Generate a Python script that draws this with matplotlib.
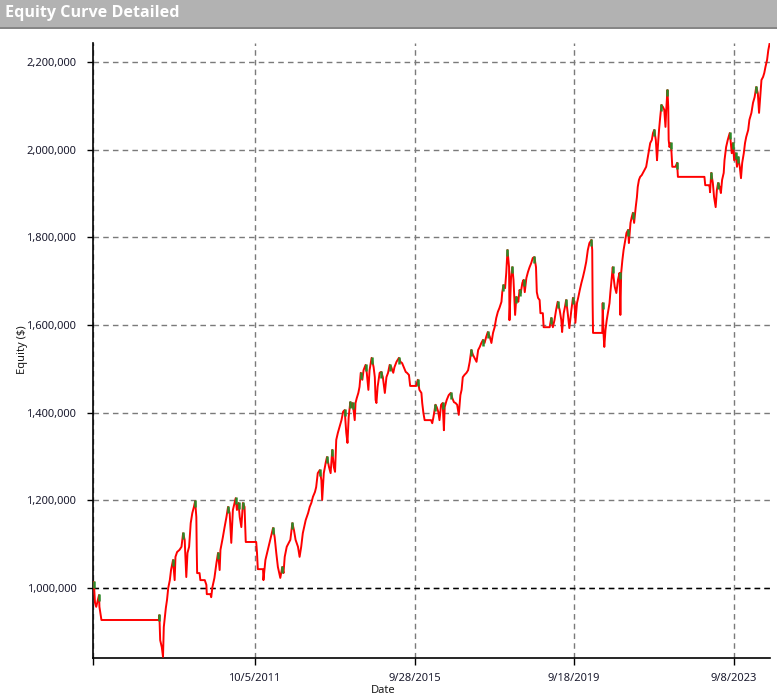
import datetime as dt
import matplotlib
matplotlib.use('Agg')
import matplotlib.pyplot as plt
from matplotlib.patches import Rectangle
from matplotlib.lines import Line2D
from matplotlib.ticker import FuncFormatter

# equity curve (decimal year, equity in $1000)
trace_year = [
    2007.74, 2007.76, 2007.79, 2007.82, 2007.89, 2007.90, 2007.93, 2007.95, 2009.38, 2009.39,
    2009.41, 2009.45, 2009.48, 2009.50, 2009.55, 2009.58, 2009.61, 2009.65, 2009.68, 2009.73,
    2009.77, 2009.79, 2009.83, 2009.89, 2009.94, 2009.98, 2010.02, 2010.06, 2010.09, 2010.13,
    2010.17, 2010.21, 2010.25, 2010.28, 2010.31, 2010.32, 2010.33, 2010.39, 2010.41, 2010.52,
    2010.56, 2010.57, 2010.66, 2010.68, 2010.71, 2010.76, 2010.81, 2010.85, 2010.89, 2010.91,
    2010.97, 2011.01, 2011.06, 2011.10, 2011.14, 2011.18, 2011.22, 2011.29, 2011.32, 2011.36,
    2011.39, 2011.43, 2011.47, 2011.51, 2011.54, 2011.80, 2011.82, 2011.84, 2011.97, 2011.98,
    2012.03, 2012.09, 2012.15, 2012.22, 2012.26, 2012.30, 2012.34, 2012.40, 2012.45, 2012.48,
    2012.51, 2012.56, 2012.61, 2012.65, 2012.70, 2012.74, 2012.78, 2012.84, 2012.88, 2012.92,
    2012.96, 2013.03, 2013.09, 2013.13, 2013.17, 2013.21, 2013.26, 2013.29, 2013.33, 2013.38,
    2013.42, 2013.44, 2013.48, 2013.53, 2013.56, 2013.61, 2013.65, 2013.69, 2013.73, 2013.76,
    2013.79, 2013.83, 2013.87, 2013.92, 2013.96, 2014.00, 2014.04, 2014.07, 2014.10, 2014.14,
    2014.17, 2014.20, 2014.25, 2014.27, 2014.30, 2014.34, 2014.37, 2014.40, 2014.44, 2014.47,
    2014.52, 2014.55, 2014.59, 2014.62, 2014.67, 2014.72, 2014.75, 2014.77, 2014.79, 2014.82,
    2014.87, 2014.91, 2014.95, 2015.00, 2015.04, 2015.08, 2015.12, 2015.16, 2015.21, 2015.24,
    2015.29, 2015.35, 2015.39, 2015.43, 2015.47, 2015.52, 2015.55, 2015.60, 2015.63, 2015.78,
    2015.82, 2015.86, 2015.91, 2015.93, 2015.96, 2015.99, 2016.15, 2016.18, 2016.21, 2016.26,
    2016.29, 2016.33, 2016.36, 2016.40, 2016.44, 2016.47, 2016.49, 2016.54, 2016.59, 2016.64,
    2016.68, 2016.72, 2016.76, 2016.80, 2016.84, 2016.88, 2016.91, 2016.94, 2016.98, 2017.03,
    2017.07, 2017.11, 2017.15, 2017.19, 2017.23, 2017.28, 2017.32, 2017.36, 2017.40, 2017.44,
    2017.48, 2017.52, 2017.56, 2017.61, 2017.65, 2017.69, 2017.73, 2017.77, 2017.81, 2017.85,
    2017.90, 2017.92, 2017.95, 2017.99, 2018.02, 2018.05, 2018.09, 2018.10, 2018.14, 2018.17,
    2018.20, 2018.24, 2018.27, 2018.29, 2018.32, 2018.35, 2018.38, 2018.42, 2018.45, 2018.48,
    2018.52, 2018.56, 2018.60, 2018.64, 2018.68, 2018.72, 2018.76, 2018.78, 2018.81, 2018.85,
    2018.87, 2018.93, 2018.95, 2019.10, 2019.14, 2019.18, 2019.22, 2019.26, 2019.30, 2019.35,
    2019.39, 2019.41, 2019.45, 2019.48, 2019.51, 2019.55, 2019.59, 2019.64, 2019.68, 2019.72,
    2019.74, 2019.78, 2019.81, 2019.85, 2019.89, 2019.93, 2019.97, 2020.01, 2020.05, 2020.09,
    2020.14, 2020.16, 2020.17, 2020.18, 2020.41, 2020.42, 2020.44, 2020.46, 2020.49, 2020.52,
    2020.56, 2020.59, 2020.61, 2020.64, 2020.67, 2020.69, 2020.72, 2020.76, 2020.80, 2020.84,
    2020.86, 2020.88, 2020.91, 2020.94, 2020.97, 2021.01, 2021.05, 2021.07, 2021.11, 2021.14,
    2021.17, 2021.20, 2021.24, 2021.27, 2021.29, 2021.32, 2021.35, 2021.39, 2021.42, 2021.46,
    2021.50, 2021.54, 2021.57, 2021.60, 2021.64, 2021.67, 2021.70, 2021.74, 2021.77, 2021.79,
    2021.82, 2021.85, 2021.88, 2021.92, 2021.95, 2021.98, 2022.00, 2022.03, 2022.05, 2022.06,
    2022.08, 2022.11, 2022.13, 2022.15, 2022.23, 2022.27, 2022.29, 2022.95, 2022.97, 2023.06,
    2023.08, 2023.09, 2023.12, 2023.16, 2023.19, 2023.23, 2023.26, 2023.29, 2023.33, 2023.36,
    2023.39, 2023.43, 2023.45, 2023.49, 2023.53, 2023.58, 2023.60, 2023.63, 2023.66, 2023.69,
    2023.73, 2023.76, 2023.79, 2023.83, 2023.86, 2023.89, 2023.93, 2023.96, 2023.99, 2024.04,
    2024.07, 2024.12, 2024.16, 2024.20, 2024.24, 2024.28, 2024.31, 2024.34, 2024.37, 2024.41,
    2024.44, 2024.47, 2024.51, 2024.54, 2024.57,
]
trace_equity_k = [
    1007, 1014, 966, 957, 984, 957, 938, 927, 927, 938,
    881, 865, 843, 911, 954, 973, 1000, 1018, 1041, 1064,
    1018, 1071, 1082, 1087, 1094, 1125, 1110, 1025, 1080, 1094,
    1148, 1171, 1185, 1198, 1162, 1087, 1034, 1034, 1018, 1018,
    1007, 986, 986, 979, 1002, 1023, 1057, 1080, 1041, 1087,
    1116, 1137, 1162, 1185, 1171, 1103, 1178, 1205, 1178, 1194,
    1162, 1139, 1194, 1185, 1105, 1105, 1080, 1043, 1043, 1018,
    1064, 1087, 1110, 1137, 1116, 1080, 1048, 1023, 1048, 1034,
    1071, 1094, 1103, 1110, 1148, 1132, 1110, 1094, 1071, 1094,
    1125, 1155, 1171, 1185, 1194, 1208, 1219, 1230, 1262, 1269,
    1246, 1201, 1262, 1287, 1299, 1276, 1262, 1315, 1276, 1265,
    1338, 1354, 1367, 1383, 1402, 1406, 1354, 1331, 1390, 1424,
    1413, 1422, 1383, 1422, 1433, 1445, 1459, 1491, 1475, 1497,
    1509, 1491, 1452, 1497, 1525, 1504, 1481, 1429, 1422, 1459,
    1491, 1493, 1481, 1445, 1481, 1491, 1509, 1504, 1491, 1504,
    1516, 1525, 1516, 1513, 1504, 1493, 1491, 1486, 1461, 1461,
    1475, 1452, 1445, 1422, 1399, 1383, 1383, 1376, 1390, 1418,
    1413, 1402, 1383, 1418, 1422, 1360, 1413, 1429, 1440, 1445,
    1433, 1424, 1422, 1418, 1395, 1440, 1452, 1481, 1486, 1491,
    1497, 1516, 1543, 1532, 1525, 1516, 1543, 1550, 1559, 1566,
    1559, 1573, 1584, 1573, 1559, 1582, 1595, 1616, 1630, 1639,
    1653, 1675, 1691, 1684, 1719, 1771, 1732, 1611, 1710, 1732,
    1703, 1623, 1664, 1662, 1653, 1680, 1673, 1696, 1703, 1675,
    1707, 1721, 1732, 1741, 1753, 1755, 1732, 1675, 1662, 1657,
    1627, 1627, 1595, 1595, 1616, 1595, 1611, 1634, 1653, 1634,
    1611, 1584, 1627, 1641, 1657, 1627, 1593, 1634, 1662, 1653,
    1605, 1650, 1662, 1680, 1696, 1710, 1726, 1744, 1771, 1787,
    1794, 1771, 1650, 1582, 1582, 1650, 1582, 1550, 1589, 1611,
    1634, 1650, 1673, 1703, 1732, 1710, 1687, 1673, 1703, 1719,
    1623, 1719, 1748, 1771, 1787, 1810, 1817, 1787, 1833, 1846,
    1856, 1833, 1869, 1892, 1915, 1931, 1938, 1942, 1947, 1954,
    1961, 1983, 1999, 2015, 2022, 2038, 2045, 2022, 1976, 2006,
    2045, 2075, 2102, 2097, 2091, 2052, 2091, 2136, 2097, 2022,
    2006, 2015, 1995, 1961, 1961, 1970, 1938, 1938, 1919, 1919,
    1915, 1903, 1947, 1924, 1892, 1869, 1908, 1924, 1915, 1901,
    1931, 1947, 1976, 2006, 2022, 2038, 2022, 1992, 2015, 1976,
    1992, 1961, 1983, 1961, 1935, 1970, 1992, 2015, 2029, 2045,
    2068, 2084, 2107, 2120, 2143, 2129, 2084, 2120, 2159, 2166,
    2175, 2189, 2205, 2227, 2241,
]

tick_dates = ['2007-09-29', '2011-10-05', '2015-09-28', '2019-09-18', '2023-09-08']
tick_labels = ['', '10/5/2011', '9/28/2015', '9/18/2019', '9/8/2023']
ytick_values = [1000000, 1200000, 1400000, 1600000, 1800000, 2000000, 2200000]
start_equity = 1000000
y_range = (840300, 2243400)


def year_to_date(y):
    year = int(y)
    return dt.datetime(year, 1, 1) + dt.timedelta(days=(y - year) * 365.25)


plt.rcParams['font.family'] = ['Noto Sans', 'DejaVu Sans']

dates = [year_to_date(y) for y in trace_year]
equity = [v * 1000 for v in trace_equity_k]

W, H = 777, 697
fig = plt.figure(figsize=(W / 100, H / 100), dpi=100)
fig.patch.set_facecolor('white')

# grey header bar
fig.add_artist(Rectangle((0, 1 - 27 / H), 1, 27 / H, transform=fig.transFigure,
                         facecolor='#b2b2b2', edgecolor='none'))
fig.add_artist(Line2D([0, 1], [1 - 28 / H, 1 - 28 / H], transform=fig.transFigure,
                      color='#6e6e6e', lw=1.2))
fig.text(5 / W, 1 - 13 / H, 'Equity Curve Detailed', color='white', fontweight='bold',
         fontsize=11.6, va='center', ha='left', family=['Open Sans', 'DejaVu Sans'])

ax = fig.add_axes([93 / W, 39 / H, 676.5 / W, 615 / H])

ax.plot(dates, equity, color='#ff0000', lw=1.4, zorder=3)

# green tips on the local highs
peaks = [i for i in range(1, len(equity) - 1)
         if equity[i] > equity[i - 1] and equity[i] >= equity[i + 1]]
ax.vlines([dates[i] for i in peaks], [equity[i] - 14000 for i in peaks],
          [equity[i] + 2000 for i in peaks], color='#2a8c2a', lw=1.8, zorder=4)

ax.axhline(start_equity, color='black', lw=1, ls=(0, (4, 3)), zorder=2)

ax.set_xlim(dates[0], dates[-1])
ax.set_ylim(*y_range)

ax.set_xticks([dt.datetime.strptime(d, '%Y-%m-%d') for d in tick_dates])
ax.set_xticklabels(tick_labels)
ax.set_yticks(ytick_values)
ax.yaxis.set_major_formatter(FuncFormatter(lambda v, p: f'{int(v):,}'))

ax.grid(True, color='#7a7a7a', lw=1, ls=(0, (4, 3)), zorder=1)
for s in ['top', 'right']:
    ax.spines[s].set_visible(False)
for s in ['left', 'bottom']:
    ax.spines[s].set_color('black')
    ax.spines[s].set_linewidth(1.2)

ax.tick_params(axis='y', length=4, width=1, pad=8, labelsize=8, labelcolor='#1a1a2e')
ax.tick_params(axis='x', length=5, width=1, pad=6, labelsize=8, labelcolor='#1a1a2e')

fig.text(22 / W, 1 - 350 / H, 'Equity ($)', rotation=90, fontsize=8, color='#1a1a1a',
         ha='center', va='center')
fig.text(383 / W, 1 / H, 'Date', fontsize=8, color='#1a1a1a', ha='center', va='bottom')

fig.savefig('out.png', dpi=100)
